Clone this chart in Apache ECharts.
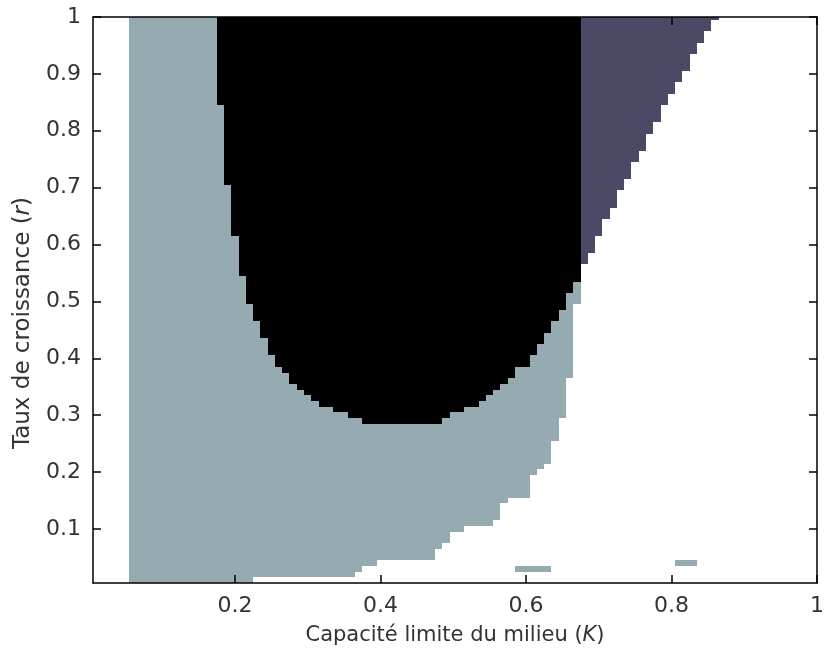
<!DOCTYPE html>
<html><head><meta charset="utf-8">
<script src="https://cdn.jsdelivr.net/npm/echarts@6/dist/echarts.min.js"></script>
<style>html,body{margin:0;padding:0;background:#fff}#c{width:827px;height:654px}</style>
</head><body><div id="c"></div>
<script>
// grid spacing of K (x) and r (y): cell i sits at value i*STEP
const STEP = 0.01;
const xTicks = [0.2, 0.4, 0.6, 0.8, 1];
const yTicks = [0.1, 0.2, 0.3, 0.4, 0.5, 0.6, 0.7, 0.8, 0.9, 1];

// light region: from column lightFirstCol to the given last column, for rows rowFrom..rowTo
const lightFirstCol = 6;
const lightRuns = [
  [1, 1, 22], [2, 2, 36], [3, 3, 37], [4, 4, 39], [5, 6, 47], [7, 7, 48],
  [8, 9, 49], [10, 10, 51], [11, 11, 55], [12, 14, 56], [15, 15, 57],
  [16, 19, 60], [20, 20, 61], [21, 21, 62], [22, 25, 63], [26, 29, 64],
  [30, 36, 65], [37, 49, 66], [50, 100, 67]
];
// black region: for columns 18..67, lowest black row (up to row 100)
const blackFirstCol = 18;
const blackBottomRow = [85, 71, 62, 55, 50, 47, 44, 41, 39, 38,
  36, 35, 34, 33, 32, 32, 31, 31, 30, 30,
  29, 29, 29, 29, 29, 29, 29, 29, 29, 29, 29,
  30, 31, 31, 32, 32, 33, 34, 35, 36, 37,
  39, 39, 41, 43, 45, 47, 49, 52, 54];
// dark region: for columns 68..86, lowest row (up to row 100)
const darkFirstCol = 68;
const darkBottomRow = [57, 59, 62, 65, 67, 70, 72, 75, 77, 80, 82, 85, 87, 89, 91, 94, 96, 98, 100];
// isolated light specks: [row, colFrom, colTo]
const lightSpecks = [[3, 59, 63], [4, 81, 83]];
const topRow = 100;

const palette = ['#96abb1', '#000000', '#4b4a66'];
const FONT = 'DejaVu Sans';
const TEXT = '#333';

const rects = [];
function addRect(c0, c1, r0, r1, cls) {
  rects.push([(c0 - 0.5) * STEP, (c1 + 0.5) * STEP, (r0 - 0.5) * STEP, (r1 + 0.5) * STEP, cls]);
}
lightRuns.forEach(([r0, r1, cEnd]) => addRect(lightFirstCol, cEnd, r0, r1, 0));
function addColumns(first, bottoms, cls) {
  let s = 0;
  for (let i = 1; i <= bottoms.length; i++) {
    if (i === bottoms.length || bottoms[i] !== bottoms[s]) {
      addRect(first + s, first + i - 1, bottoms[s], topRow, cls);
      s = i;
    }
  }
}
addColumns(blackFirstCol, blackBottomRow, 1);
addColumns(darkFirstCol, darkBottomRow, 2);
lightSpecks.forEach(([r, c0, c1]) => addRect(c0, c1, r, r, 0));

const axisBase = {
  type: 'value', min: 0.005, max: 1, z: 10,
  splitLine: { show: false },
  axisLine: { show: true, onZero: false, lineStyle: { color: '#000', width: 1.5 } }
};
function tickCfg(vals) {
  return { show: true, inside: true, length: 8, customValues: vals, lineStyle: { color: '#000', width: 1.5 } };
}
const labelStyle = { fontSize: 22, fontFamily: FONT, color: TEXT };
function nameStyle(size, padding) {
  return { fontSize: size, fontFamily: FONT, color: TEXT, padding: padding,
    rich: { i: { fontStyle: 'italic', fontSize: size, fontFamily: FONT, color: TEXT } } };
}

const chart = echarts.init(document.getElementById('c'), null, { renderer: 'canvas' });
chart.setOption({
  animation: false,
  backgroundColor: '#fff',
  grid: { left: 93, right: 5, top: 17, bottom: 71, show: false },
  xAxis: [
    Object.assign({}, axisBase, {
      position: 'bottom',
      axisTick: tickCfg(xTicks),
      axisLabel: Object.assign({ customValues: xTicks, margin: 12 }, labelStyle),
      name: 'Capacité limite du milieu ({i|K})',
      nameLocation: 'middle', nameGap: 42,
      nameTextStyle: nameStyle(21, 0)
    }),
    Object.assign({}, axisBase, {
      position: 'top', axisTick: tickCfg(xTicks), axisLabel: { show: false }
    })
  ],
  yAxis: [
    Object.assign({}, axisBase, {
      position: 'left',
      axisTick: tickCfg(yTicks),
      axisLabel: Object.assign({ customValues: yTicks, margin: 12 }, labelStyle),
      name: 'Taux de croissance ({i|r})',
      nameLocation: 'middle', nameGap: 58,
      nameTextStyle: nameStyle(23, [0, 46, 0, 0])
    }),
    Object.assign({}, axisBase, {
      position: 'right', axisTick: tickCfg(yTicks), axisLabel: { show: false }
    })
  ],
  series: [{
    type: 'custom',
    clip: true,
    encode: { x: [0, 1], y: [2, 3] },
    data: rects,
    renderItem: function (params, api) {
      const a = api.coord([api.value(0), api.value(3)]);
      const b = api.coord([api.value(1), api.value(2)]);
      const x0 = Math.round(a[0]), y0 = Math.round(a[1]);
      const x1 = Math.round(b[0]), y1 = Math.round(b[1]);
      return {
        type: 'rect',
        shape: { x: x0, y: y0, width: x1 - x0, height: y1 - y0 },
        style: { fill: palette[api.value(4)] }
      };
    }
  }]
});
</script></body></html>
